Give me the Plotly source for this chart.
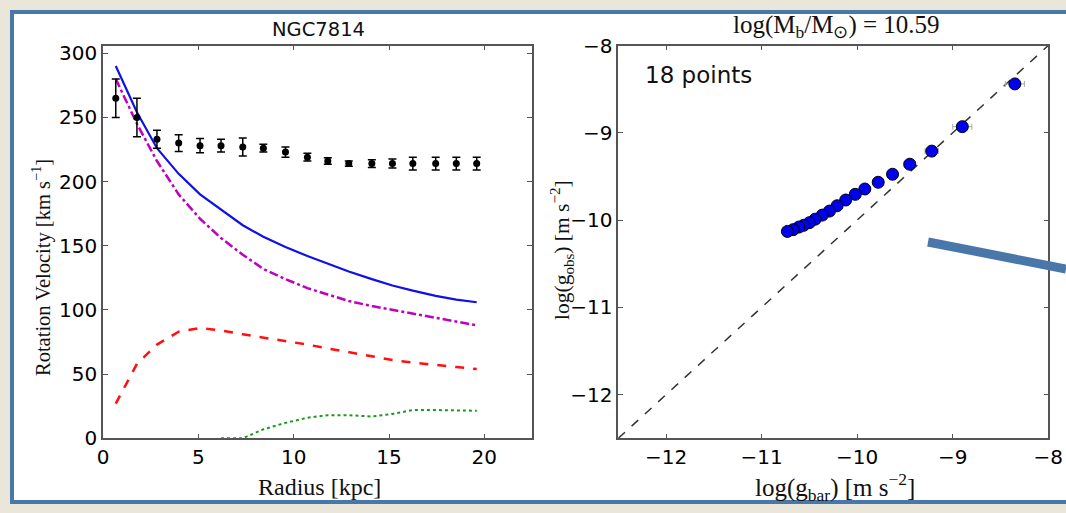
import plotly.graph_objects as go

# ---------------- data ----------------
radius = [0.67, 1.78, 2.83, 3.97, 5.09, 6.19, 7.33, 8.41, 9.57, 10.72,
          11.79, 12.89, 14.1, 15.18, 16.25, 17.45, 18.53, 19.6]
v_obs = [265, 250, 233, 230, 228, 228, 227, 226, 223, 219,
         216, 214, 214, 214, 214, 214, 214, 214]
v_err = [15, 15, 7, 6.5, 5.5, 5, 7, 3, 4, 3,
         2.5, 2, 3, 3.5, 5, 5, 5, 5]
v_bar = [290, 254, 226, 206, 190, 178, 166, 157, 149, 142,
         136, 130, 124, 119, 115, 111, 108, 106]
v_bulge = [280, 245, 216, 190, 171, 156, 143, 132, 124, 117,
           112, 107, 103, 100, 97, 94, 91, 88]
v_disk = [27, 58, 73, 83, 86, 84, 81, 78.5, 76, 73,
          70, 67, 64, 61, 59, 57, 55.5, 54]
v_gas = [None, None, None, None, None, 0, 0, 7, 12, 16,
         18, 18, 17, 19, 22, 22, 22, 21.5]

g_bar = [-8.35, -8.90, -9.22, -9.45, -9.63, -9.78, -9.92, -10.02, -10.12,
         -10.21, -10.29, -10.365, -10.44, -10.50, -10.56, -10.61, -10.67, -10.73]
g_obs = [-8.44, -8.93, -9.21, -9.36, -9.475, -9.567, -9.644, -9.705, -9.77,
         -9.836, -9.897, -9.943, -9.99, -10.03, -10.06, -10.08, -10.11, -10.13]
g_bar_err = [0.1, 0.1, 0.07, 0.06, 0.05, 0.05, 0.05, 0.05, 0.05,
             0.04, 0.04, 0.04, 0.04, 0.04, 0.04, 0.04, 0.04, 0.04]
one_to_one = [-12.5, -8.0]

left_xticks = [0, 5, 10, 15, 20]
left_yticks = [0, 50, 100, 150, 200, 250, 300]
right_ticks = [-12, -11, -10, -9, -8]
right_ticktext = ["\u221212", "\u221211", "\u221210", "\u22129", "\u22128"]

galaxy = "NGC7814"
log_mass = "10.59"
n_points_label = "18 points"

# ---------------- figure ----------------
W, H = 1066, 513
fig = go.Figure()

fig.add_trace(go.Scatter(x=radius, y=v_bulge, mode="lines",
                         line=dict(color="#c000c0", width=2.5, dash="dashdot"),
                         xaxis="x", yaxis="y", showlegend=False))
fig.add_trace(go.Scatter(x=radius, y=v_bar, mode="lines",
                         line=dict(color="#1010e8", width=2.2),
                         xaxis="x", yaxis="y", showlegend=False))
fig.add_trace(go.Scatter(x=radius, y=v_disk, mode="lines",
                         line=dict(color="#ff1010", width=2.5, dash="dash"),
                         xaxis="x", yaxis="y", showlegend=False))
fig.add_trace(go.Scatter(x=radius, y=v_gas, mode="lines",
                         line=dict(color="#1a9a1a", width=2, dash="dot"),
                         connectgaps=False,
                         xaxis="x", yaxis="y", showlegend=False))
fig.add_trace(go.Scatter(x=radius, y=v_obs, mode="markers",
                         marker=dict(color="black", size=7),
                         error_y=dict(type="data", array=v_err, color="black",
                                      thickness=1.5, width=4),
                         xaxis="x", yaxis="y", showlegend=False))

fig.add_trace(go.Scatter(x=one_to_one, y=one_to_one, mode="lines",
                         line=dict(color="#333333", width=1.5, dash="dash"),
                         xaxis="x2", yaxis="y2", showlegend=False))
fig.add_trace(go.Scatter(x=g_bar, y=g_obs, mode="markers",
                         marker=dict(color="#0000f0", size=12,
                                     line=dict(color="black", width=1)),
                         error_x=dict(type="data", array=g_bar_err, color="#aaaaaa",
                                      thickness=1, width=3),
                         xaxis="x2", yaxis="y2", showlegend=False))

tickfont = dict(family="DejaVu Sans", size=20, color="black")
axis_common = dict(showgrid=False, zeroline=False, showline=True,
                   linecolor="#555555", linewidth=1.5, mirror="allticks",
                   ticks="inside", ticklen=5, tickcolor="#555555",
                   tickfont=tickfont, automargin=False)

y_bot = 1 - 438.3 / H
y_top = 1 - 45.5 / H

fig.update_layout(
    width=W, height=H, autosize=False,
    margin=dict(l=0, r=0, t=0, b=0, pad=0, autoexpand=False),
    paper_bgcolor="#ebe6da", plot_bgcolor="white",
    xaxis=dict(domain=[103 / W, 532 / W], range=[0, 22.5],
               tickvals=left_xticks, anchor="y", **axis_common),
    yaxis=dict(domain=[y_bot, y_top], range=[0, 306],
               tickvals=left_yticks, anchor="x", **axis_common),
    xaxis2=dict(domain=[618.3 / W, 1048.3 / W], range=[-12.5, -8],
                tickvals=right_ticks, ticktext=right_ticktext,
                anchor="y2", **axis_common),
    yaxis2=dict(domain=[y_bot, y_top], range=[-12.5, -8],
                tickvals=right_ticks, ticktext=right_ticktext,
                anchor="x2", **axis_common),
)

ink = "#111111"


def px(x):
    return x / W


def py(y):
    return 1 - y / H


annotations = [
    dict(text=galaxy, x=px(318), y=py(29),
         font=dict(family="DejaVu Sans", size=19.5, color=ink)),
    dict(text="log(M<sub>b</sub>/M<sub>\u2299</sub>) = " + log_mass,
         x=px(836), y=py(27), font=dict(family="Liberation Serif", size=25, color=ink)),
    dict(text=n_points_label, x=px(643), y=py(75), xanchor="left",
         font=dict(family="DejaVu Sans", size=23, color=ink)),
    dict(text="Radius [kpc]", x=px(319), y=py(487),
         font=dict(family="Liberation Serif", size=24, color=ink)),
    dict(text="log(g<sub>bar</sub>) [m s<sup>\u22122</sup>]", x=px(835), y=py(487),
         font=dict(family="Liberation Serif", size=25, color=ink)),
    dict(text="Rotation Velocity [km s<sup>\u22121</sup>]", x=px(41), y=py(268),
         textangle=-90, font=dict(family="Liberation Serif", size=20.5, color=ink)),
    dict(text="log(g<sub>obs</sub>) [m s<sup>\u22122</sup>]", x=px(562), y=py(250),
         textangle=-90, font=dict(family="Liberation Serif", size=21.5, color=ink)),
]
for a in annotations:
    a.setdefault("xanchor", "center")
    a.update(xref="paper", yref="paper", yanchor="middle", showarrow=False)
fig.update_layout(annotations=annotations)

fig.update_layout(shapes=[
    dict(type="rect", xref="paper", yref="paper",
         x0=px(12), x1=px(1075), y0=py(502), y1=py(12),
         fillcolor="white", line=dict(color="#4a77aa", width=4), layer="below"),
    dict(type="line", xref="paper", yref="paper",
         x0=px(928), y0=py(242), x1=px(1066), y1=py(269),
         line=dict(color="#4a77aa", width=9), layer="above"),
])

fig.write_html("out.html")
